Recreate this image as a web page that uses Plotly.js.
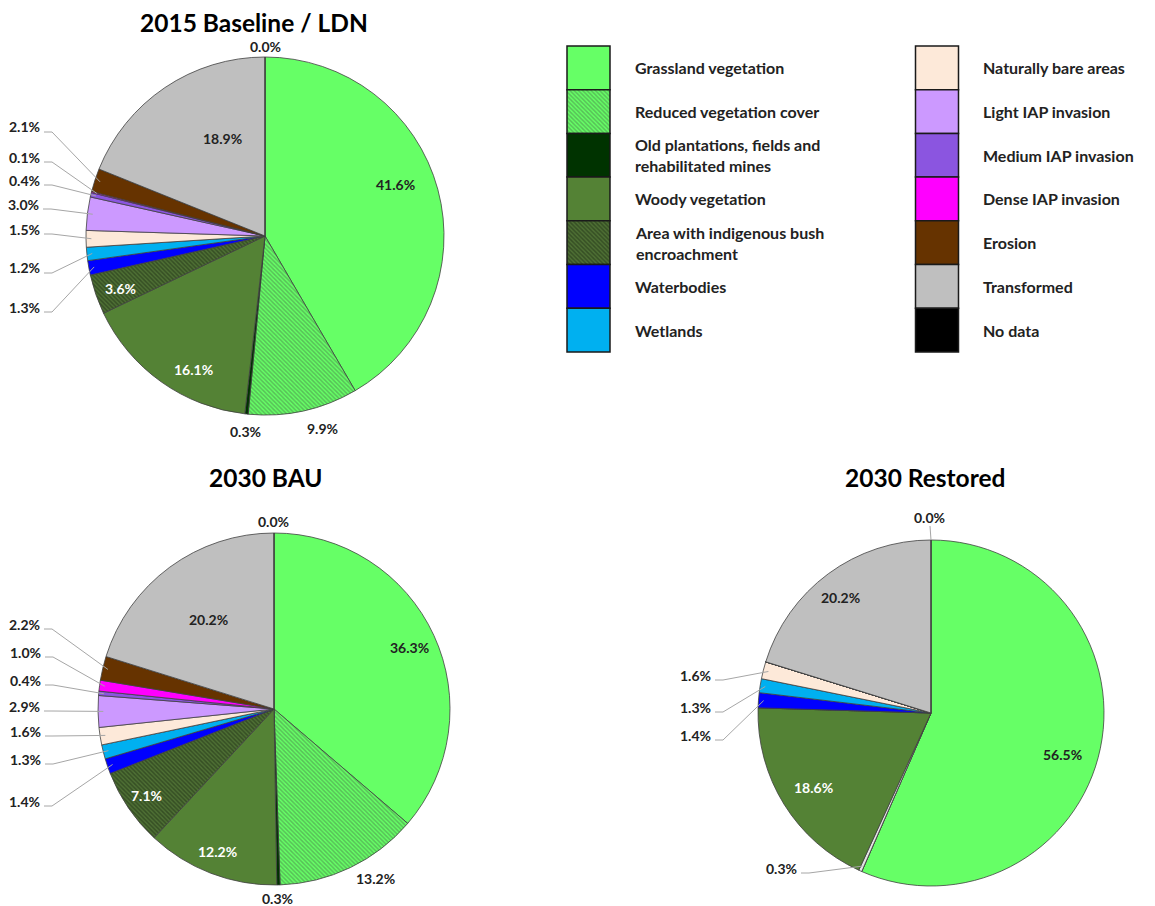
<!DOCTYPE html>
<html><head><meta charset="utf-8">
<script src="https://cdn.plot.ly/plotly-3.0.1.min.js"></script>
<style>html,body{margin:0;padding:0;background:#fff}#chart{width:1155px;height:906px}</style>
</head><body><div id="chart"></div>
<script>
// ---------- DATA ----------
const categories = ["Grassland vegetation","Reduced vegetation cover","Old plantations, fields and rehabilitated mines","Woody vegetation","Area with indigenous bush encroachment","Waterbodies","Wetlands","Naturally bare areas","Light IAP invasion","Medium IAP invasion","Dense IAP invasion","Erosion","Transformed","No data"];
const legendLabels = ["Grassland vegetation","Reduced vegetation cover","Old plantations, fields and<br>rehabilitated mines","Woody vegetation","Area with indigenous bush<br>encroachment","Waterbodies","Wetlands","Naturally bare areas","Light IAP invasion","Medium IAP invasion","Dense IAP invasion","Erosion","Transformed","No data"];
const chartTitles = ["2015 Baseline / LDN","2030 BAU","2030 Restored"];
const baseline2015 = [41.6, 9.9, 0.3, 16.1, 3.6, 1.3, 1.2, 1.5, 3.0, 0.4, 0.1, 2.1, 18.9, 0.0];
const bau2030      = [36.3, 13.2, 0.3, 12.2, 7.1, 1.4, 1.3, 1.6, 2.9, 0.4, 1.0, 2.2, 20.2, 0.0];
const restored2030 = [56.5, 0, 0.3, 18.6, 0, 1.4, 1.3, 1.6, 0, 0, 0, 0, 20.2, 0.0];
const shownRestored = [1,0,1,1,0,1,1,1,0,0,0,0,1,1];

// ---------- STYLE ----------
const W = 1155, H = 906;
const colors = ['#66ff66','#66ff66','#003300','#548235','#4e7034','#0000ff','#00b0f0','#fde9d9','#cc99ff','#8b55e0','#ff00ff','#663300','#bfbfbf','#000000'];
const patShape = ['','\\','','','\\','','','','','','','','',''];
const patFg = ['#000','#4a7f4a','#000','#000','#1e2d14','#000','#000','#000','#000','#000','#000','#000','#000','#000'];
const textColors = ['#222','#222','#222','#fff','#fff','#222','#222','#222','#222','#222','#222','#222','#222','#222'];
const FONT = 'Lato, "Open Sans", sans-serif';

const pieGeom = [{cx:265, cy:236, r:179},{cx:274, cy:709, r:176},{cx:931, cy:713, r:173}];
const titlePos = [[254,22],[265,477],[925,477]];
// label layout: [x, y, anchor('c' centre / 'r' right), leader ('' none, 'side', 'top')]
const labelLayout = [
 [[395,184,'c',''],[322,428,'c',''],[246,431,'c',''],[193,369,'c',''],[120,289,'c',''],
  [42,307,'r','side'],[42,268,'r','side'],[42,229,'r','side'],[41,204,'r','side'],[42,180,'r','side'],[42,157,'r','side'],[42,127,'r','side'],[222,138,'c',''],[265,46,'c','']],
 [[409,647,'c',''],[375,878,'c',''],[277,898,'c',''],[217,851,'c',''],[146,795,'c',''],
  [42,801,'r','side'],[43,759,'r','side'],[43,731,'r','side'],[42,706,'r','side'],[43,680,'r','side'],[43,652,'r','side'],[42,624,'r','side'],[208,619,'c',''],[273,521,'c','']],
 [[1062,754,'c',''],null,[799,868,'r','side'],[813,787,'c',''],null,
  [713,735,'r','side'],[713,707,'r','side'],[713,675,'r','side'],null,null,null,null,[840,597,'c',''],[929,517,'c','top']]
];

const px = x => x / W;
const py = y => 1 - y / H;

const series = [baseline2015, bau2030, restored2030];
const traces = [];
const annotations = [];
const shapes = [];

series.forEach((vals, k) => {
  const g = pieGeom[k];
  const cols = colors.slice();
  if (k === 2) cols[2] = '#e4e4e4';
  traces.push({
    type: 'pie', values: vals, labels: categories, sort: false, direction: 'clockwise', rotation: 0,
    textinfo: 'none', hoverinfo: 'label+percent', showlegend: false,
    domain: {x: [px(g.cx - g.r), px(g.cx + g.r)], y: [py(g.cy + g.r), py(g.cy - g.r)]},
    marker: {colors: cols, line: {color: '#404040', width: 0.8},
      pattern: {shape: patShape, fgcolor: patFg, size: 3, solidity: 0.5, fillmode: 'overlay'}}
  });
  annotations.push({xref:'paper', yref:'paper', x: px(titlePos[k][0]), y: py(titlePos[k][1]),
    text: '<b>' + chartTitles[k] + '</b>', showarrow: false, xanchor: 'center', yanchor: 'middle',
    font: {family: FONT, size: 24.5, color: '#000'}});
  const total = vals.reduce((a, b) => a + b, 0);
  let cum = 0;
  vals.forEach((v, i) => {
    const mid = (cum + v / 2) / total;
    cum += v;
    const L = labelLayout[k][i];
    if (!L) return;
    if (k === 2 && !shownRestored[i]) return;
    const [lx, ly, anc, lead] = L;
    annotations.push({xref:'paper', yref:'paper', x: px(lx), y: py(ly),
      text: '<b>' + v.toFixed(1) + '%</b>', showarrow: false,
      xanchor: anc === 'r' ? 'right' : 'center', yanchor: 'middle',
      font: {family: FONT, size: 14, color: textColors[i]}});
    const th = 2 * Math.PI * mid;
    const rr = g.r * 0.97;
    const sx = g.cx + rr * Math.sin(th), sy = g.cy - rr * Math.cos(th);
    if (lead === 'side') {
      const y0 = ly + 5;
      shapes.push({type: 'path', xref: 'paper', yref: 'paper',
        path: `M ${px(lx + 2)},${py(y0)} L ${px(lx + 10)},${py(y0)} L ${px(sx)},${py(sy)}`,
        line: {color: '#a6a6a6', width: 1}});
    } else if (lead === 'top') {
      shapes.push({type: 'path', xref: 'paper', yref: 'paper',
        path: `M ${px(lx + 1)},${py(ly + 9)} L ${px(g.cx)},${py(g.cy - g.r)}`,
        line: {color: '#a6a6a6', width: 1}});
    }
  });
});

// ---------- LEGEND (one swatch bar per category on hidden axes) ----------
const legTop = 46, rowH = 43.7, boxW = 43, colCx = [588.5, 937], textX = [633, 981];
categories.forEach((c, i) => {
  const col = i < 7 ? 0 : 1, row = i % 7;
  const pat = patShape[i] ? {shape: patShape[i], fgcolor: patFg[i], bgcolor: colors[i], size: 3, solidity: 0.5, fillmode: 'overlay'} : {shape: ''};
  traces.push({type: 'bar', x: [colCx[col]], y: [rowH], base: [legTop + row * rowH], width: [boxW],
    xaxis: 'x', yaxis: 'y', hoverinfo: 'skip', showlegend: false, name: c,
    marker: {color: colors[i], line: {color: '#1a1a1a', width: 1.5}, pattern: pat}});
  annotations.push({xref:'paper', yref:'paper', x: px(textX[col]), y: py(legTop + (row + 0.5) * rowH),
    text: '<b>' + legendLabels[i] + '</b>', showarrow: false, xanchor: 'left', yanchor: 'middle', align: 'left',
    font: {family: FONT, size: 16, color: '#222'}});
});

const layout = {
  width: W, height: H, margin: {l: 0, r: 0, t: 0, b: 0},
  paper_bgcolor: '#fff', plot_bgcolor: 'rgba(0,0,0,0)', showlegend: false, barmode: 'overlay',
  xaxis: {domain: [0, 1], range: [0, W], visible: false, fixedrange: true},
  yaxis: {domain: [0, 1], range: [H, 0], visible: false, fixedrange: true},
  annotations, shapes
};
Plotly.newPlot('chart', traces, layout, {displayModeBar: false, staticPlot: true});
</script></body></html>
